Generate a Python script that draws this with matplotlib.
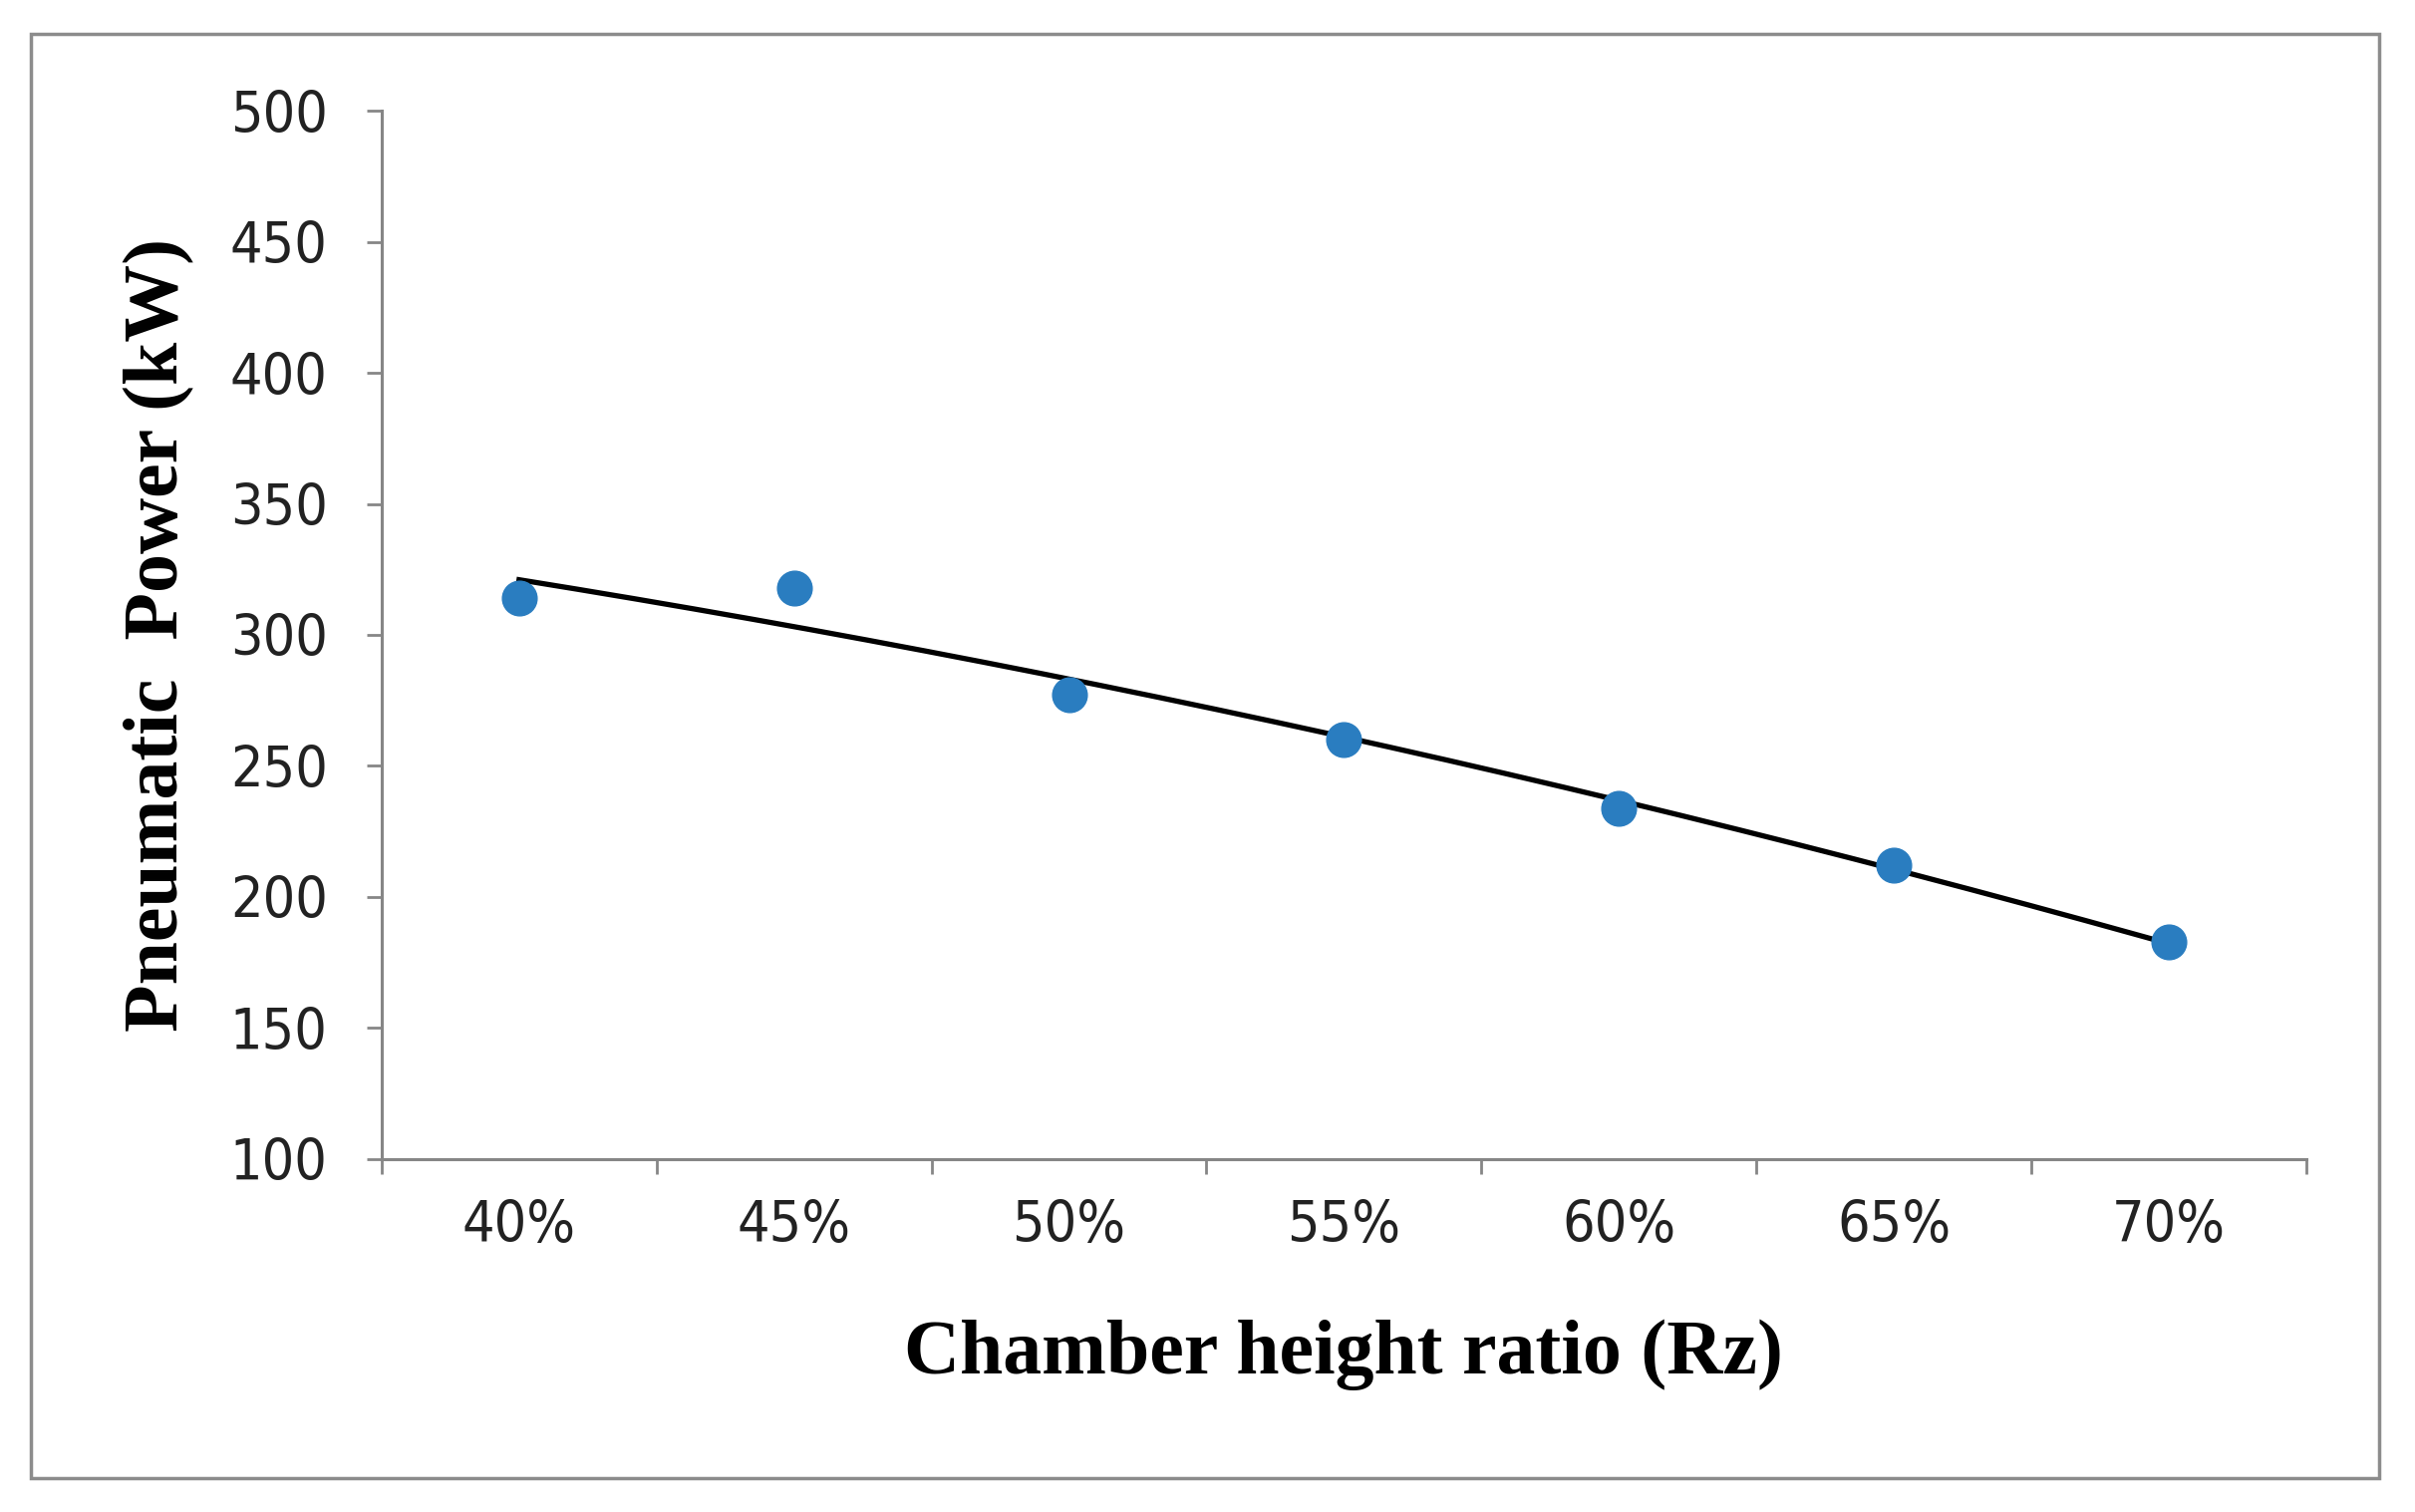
import numpy as np
import matplotlib
matplotlib.use("Agg")
import matplotlib.pyplot as plt
from matplotlib.patches import Rectangle

# data
categories = ["40%", "45%", "50%", "55%", "60%", "65%", "70%"]
power_kw = [314, 318, 277, 260, 234, 212, 183]

x = np.arange(1, len(categories) + 1)

# Excel style 2nd order polynomial trendline
coef = np.polyfit(x, power_kw, 2)
xt = np.linspace(x[0], x[-1], 200)
yt = np.polyval(coef, xt)

fig = plt.figure(figsize=(24.23, 15.17), dpi=100)
ax = fig.add_axes([0.158, 0.2334, 0.797, 0.6934])

gray = "#868686"

ax.plot(xt, yt, color="black", lw=3.8, zorder=2)
ax.plot(x, power_kw, "o", color="#2A7DC0", markersize=25, zorder=3)

ax.set_xlim(0.5, len(categories) + 0.5)
ax.set_ylim(100, 500)
ax.set_yticks(range(100, 501, 50))

# category ticks sit between the points, labels under the points
ax.set_xticks(np.arange(0.5, len(categories) + 1, 1))
ax.set_xticklabels([])
ax.set_xticks(x, minor=True)
ax.set_xticklabels(categories, minor=True)

for lab in ax.get_yticklabels() + ax.get_xticklabels(minor=True):
    lab.set_family("DejaVu Sans")
    lab.set_stretch("condensed")
    lab.set_fontsize(41)
    lab.set_color("#222222")

ax.tick_params(axis="both", which="major", direction="out", length=11,
               width=2, color=gray)
ax.tick_params(axis="x", which="minor", length=0, pad=29)
ax.tick_params(axis="y", which="major", pad=28)

for s in ["top", "right"]:
    ax.spines[s].set_visible(False)
for s in ["left", "bottom"]:
    ax.spines[s].set_color(gray)
    ax.spines[s].set_linewidth(2.2)

ax.set_xlabel("Chamber height ratio (Rz)", family="Liberation Serif",
              fontweight="bold", fontsize=56, va="center")
ax.xaxis.set_label_coords(0.5, -0.187)
ax.set_ylabel("Pneumatic  Power (kW)", family="Liberation Serif",
              fontweight="bold", fontsize=56, va="center")
ax.yaxis.set_label_coords(-0.1155, 0.5)

# outer chart border
fig.patches.append(Rectangle((31 / 2423, 1 - 1483 / 1517), (2387 - 31) / 2423,
                             (1483 - 34) / 1517, transform=fig.transFigure,
                             fill=False, edgecolor="#8c8c8c", lw=2.5))

fig.savefig("out.png", dpi=100)
